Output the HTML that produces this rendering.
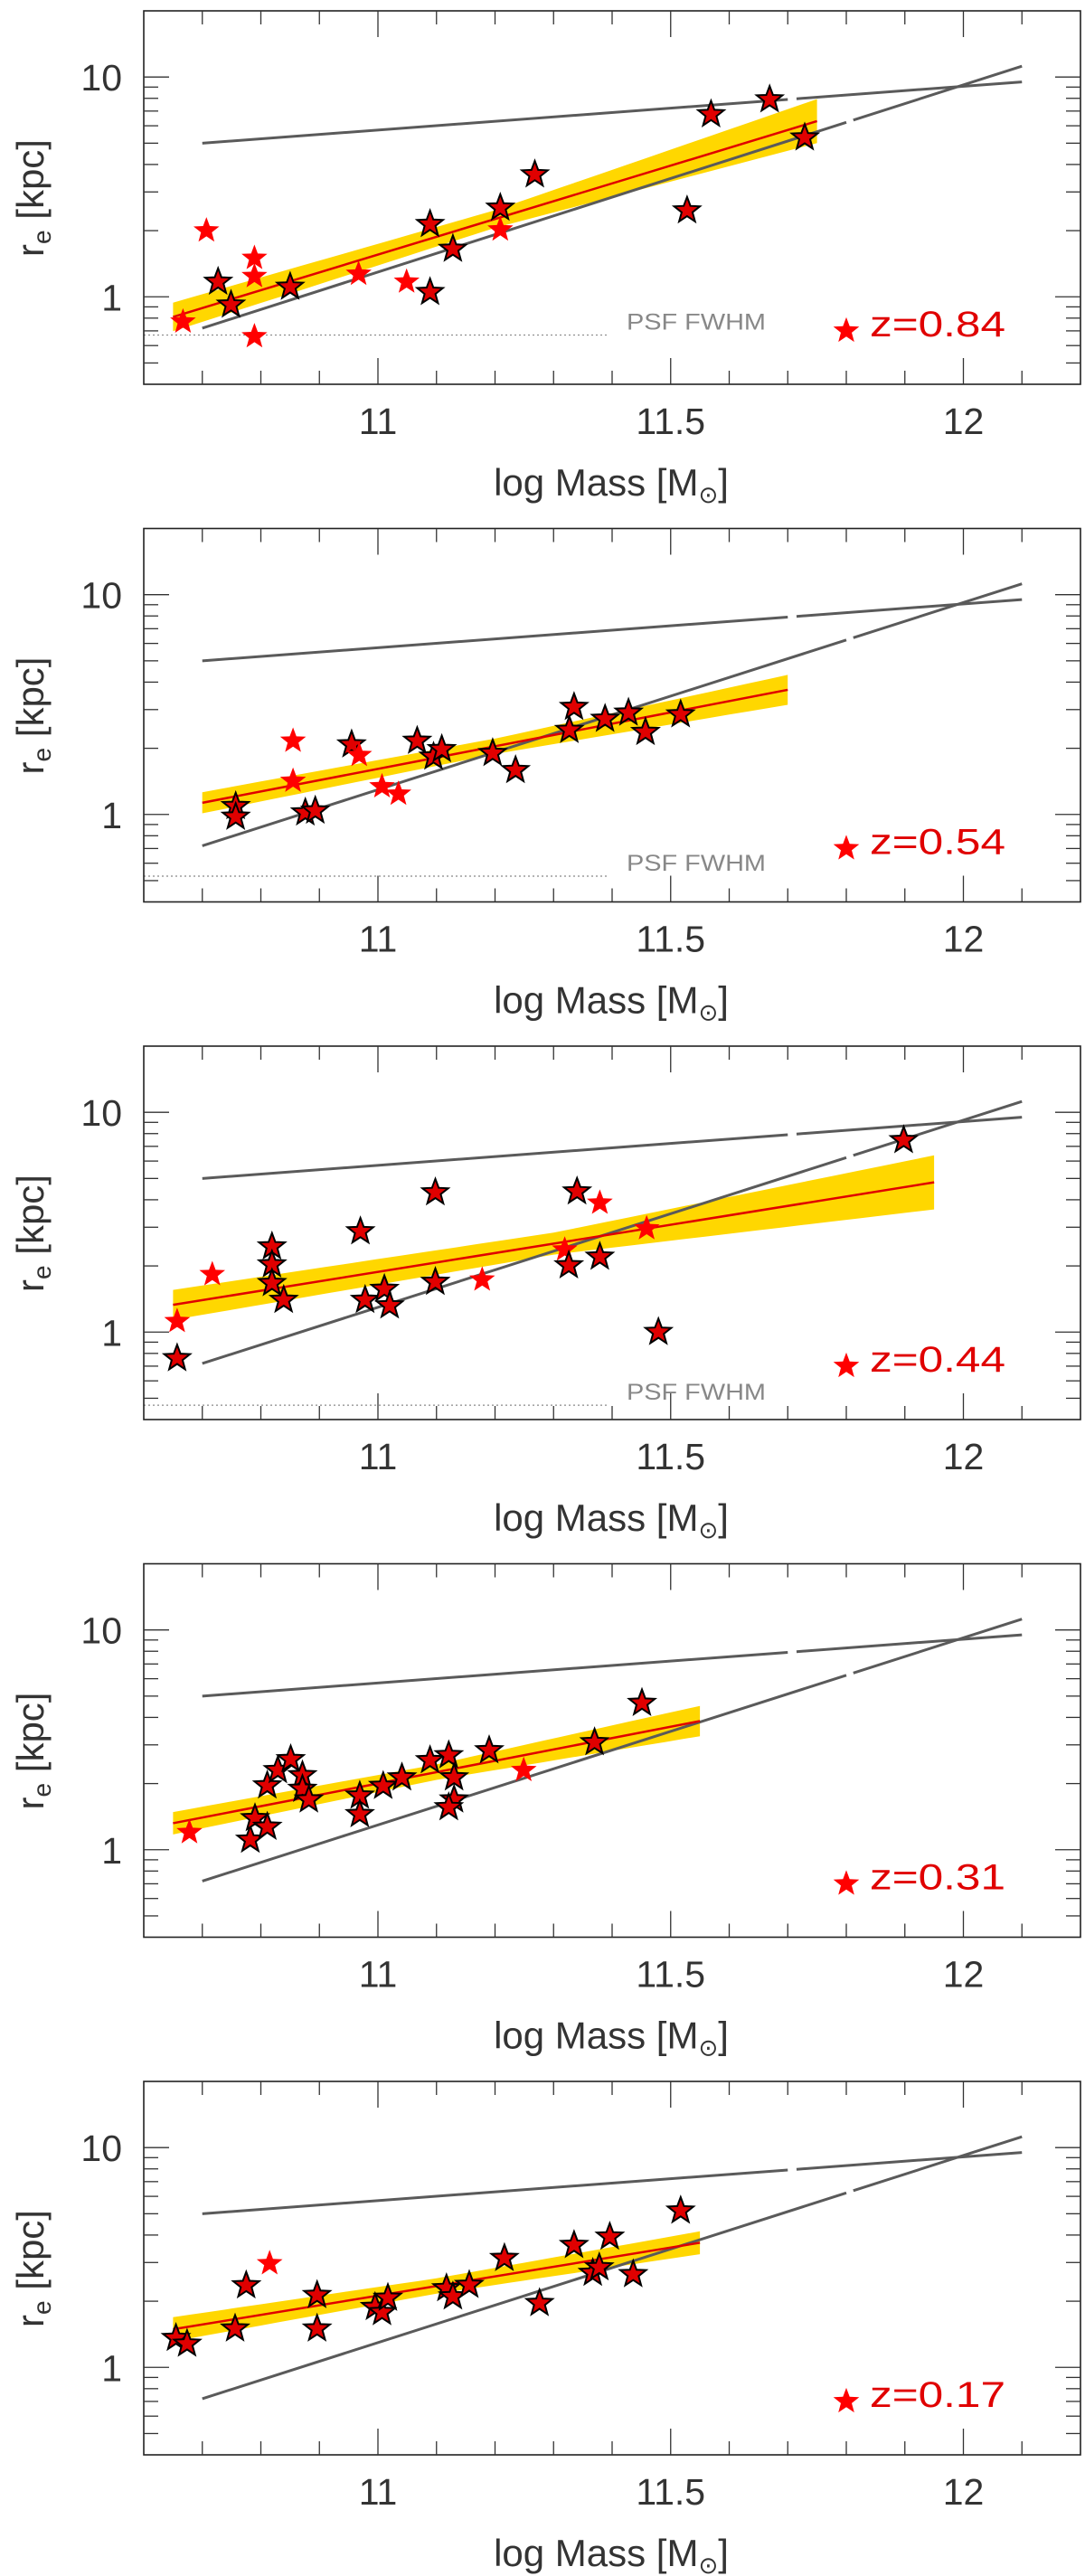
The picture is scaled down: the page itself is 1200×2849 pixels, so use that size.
<!DOCTYPE html>
<html><head><meta charset="utf-8">
<style>
html,body{margin:0;padding:0;background:#fff;}
svg{display:block;}
text{font-family:"Liberation Sans",sans-serif;}
</style></head>
<body>
<svg id="fig" width="1200" height="2849" viewBox="0 0 1200 2849" xmlns="http://www.w3.org/2000/svg"></svg>
<script>
// ---- data (per panel) ----
const zLabels = ["z=0.84","z=0.54","z=0.44","z=0.31","z=0.17"];
const psfValues = [0.67, 0.524, 0.465, null, null];

const p1Mass = [10.667,10.707,10.727,10.749,10.789,10.789,10.789,10.85,10.967,11.049,11.089,11.089,11.128,11.209,11.209,11.268,11.528,11.569,11.669,11.729];
const p1Re   = [0.77,2.0,1.17,0.92,1.5,1.24,0.66,1.11,1.27,1.17,2.14,1.05,1.65,2.54,2.02,3.6,2.47,6.76,7.9,5.3];
const p1Out  = [0,0,1,1,0,0,0,1,0,0,1,1,1,1,0,1,1,1,1,1];

const p2Mass = [10.757,10.757,10.855,10.855,10.876,10.893,10.955,10.968,11.007,11.035,11.067,11.095,11.109,11.196,11.235,11.327,11.335,11.388,11.428,11.457,11.517];
const p2Re   = [1.09,0.975,2.16,1.42,1.02,1.04,2.08,1.86,1.34,1.24,2.16,1.83,1.98,1.9,1.59,2.42,3.08,2.72,2.9,2.37,2.85];
const p2Out  = [1,1,0,0,1,1,1,0,0,0,1,1,1,1,1,1,1,1,1,1,1];

const p3Mass = [10.657,10.657,10.717,10.819,10.819,10.819,10.839,10.97,10.978,11.011,11.02,11.098,11.098,11.178,11.319,11.326,11.34,11.379,11.379,11.459,11.479,11.898];
const p3Re   = [1.12,0.76,1.83,2.45,2.03,1.67,1.4,2.87,1.4,1.57,1.32,4.32,1.69,1.73,2.37,2.01,4.36,2.2,3.87,2.96,1.0,7.46];
const p3Out  = [0,1,0,1,1,1,1,1,1,1,1,1,1,0,0,1,1,1,0,0,1,1];

const p4Mass = [10.678,10.782,10.79,10.811,10.811,10.829,10.851,10.871,10.871,10.882,10.969,10.969,11.009,11.041,11.089,11.121,11.13,11.13,11.121,11.19,11.249,11.37,11.451];
const p4Re   = [1.2,1.11,1.39,1.27,1.96,2.3,2.58,2.18,1.89,1.69,1.76,1.45,1.95,2.13,2.55,2.69,2.13,1.69,1.56,2.83,2.3,3.08,4.65];
const p4Out  = [0,1,1,1,1,1,1,1,1,1,1,1,1,1,1,1,1,1,1,1,0,1,1];

const p5Mass = [10.655,10.674,10.756,10.775,10.815,10.896,10.896,10.995,11.007,11.017,11.117,11.128,11.156,11.216,11.276,11.335,11.367,11.378,11.396,11.436,11.517];
const p5Re   = [1.36,1.28,1.5,2.36,2.97,2.13,1.5,1.88,1.78,2.07,2.29,2.1,2.37,3.14,1.96,3.6,2.69,2.85,3.93,2.65,5.16];
const p5Out  = [1,1,1,1,0,1,1,1,1,1,1,1,1,1,1,1,1,1,1,1,1];

const fitMass = [[10.65,11.75],[10.7,11.7],[10.65,11.95],[10.65,11.55],[10.65,11.55]];
const fitRe   = [[0.81,6.3],[1.13,3.69],[1.33,4.8],[1.32,3.85],[1.49,3.69]];
const bandHalfDex = [[0.065,0.04,0.1],[0.048,0.035,0.068],[0.068,0.05,0.123],[0.051,0.035,0.069],[0.055,0.035,0.052]];

// reference relations (same every panel)
const upperMass = [10.7,12.1];
const upperRe = [5.0,9.5];
const lowerMass = [10.7,12.1];
const lowerRe = [0.72,11.2];

const xTickMajor = [11,11.5,12];
const xTickLabels = ["11","11.5","12"];
const yTickMajor = [1,10];
const yTickLabels = ["1","10"];

const panelsMass=[p1Mass,p2Mass,p3Mass,p4Mass,p5Mass];
const panelsRe=[p1Re,p2Re,p3Re,p4Re,p5Re];
const panelsOut=[p1Out,p2Out,p3Out,p4Out,p5Out];

// ---- layout ----
const NS="http://www.w3.org/2000/svg";
const svg=document.getElementById('fig');
const L=159,W=1036,H=413;
const XMIN=10.6,XMAX=12.2,YMIN=Math.log10(0.4),YMAX=Math.log10(20);
function mk(tag,attrs,parent){const e=document.createElementNS(NS,tag);for(const k in attrs)e.setAttribute(k,attrs[k]);(parent||svg).appendChild(e);return e;}
function starPts(cx,cy,R){const r=R*0.42;let p=[];for(let i=0;i<10;i++){const a=-Math.PI/2+i*Math.PI/5;const rr=i%2?r:R;p.push((cx+rr*Math.cos(a)).toFixed(1)+","+(cy+rr*Math.sin(a)).toFixed(1));}return p.join(" ");}

for(let pi=0;pi<5;pi++){
  const T=12+pi*572.5;
  const sx=m=>L+(m-XMIN)/(XMAX-XMIN)*W;
  const sy=r=>T+(YMAX-Math.log10(r))/(YMAX-YMIN)*H;
  const g=mk('g',{});
  
  
  const clipId='clip'+pi;
  const cp=mk('clipPath',{id:clipId},g);mk('rect',{x:L,y:T,width:W,height:H},cp);
  const plot=mk('g',{'clip-path':'url(#'+clipId+')'},g);

  // band
  const fm=fitMass[pi],fr=fitRe[pi],bh=bandHalfDex[pi];
  const l0=Math.log10(fr[0]),l1=Math.log10(fr[1]);
  const mid=(fm[0]+fm[1])/2;
  let top=[],bot=[];
  for(let k=0;k<=30;k++){
    const m=fm[0]+(fm[1]-fm[0])*k/30;
    const lc=l0+(l1-l0)*k/30;
    const h=m<mid? bh[0]+(bh[1]-bh[0])*(m-fm[0])/(mid-fm[0]) : bh[1]+(bh[2]-bh[1])*(m-mid)/(fm[1]-mid);
    top.push(sx(m).toFixed(1)+","+sy(Math.pow(10,lc+h)).toFixed(1));
    bot.unshift(sx(m).toFixed(1)+","+sy(Math.pow(10,lc-h)).toFixed(1));
  }
  const band=mk('polygon',{points:top.concat(bot).join(" "),fill:'#ffd700'},plot);
  
  

  // reference lines with small gaps
  function refLine(ms,rs,gapA,gapB,name){
    const la=Math.log10(rs[0]),lb=Math.log10(rs[1]);
    const at=m=>Math.pow(10,la+(lb-la)*(m-ms[0])/(ms[1]-ms[0]));
    const segs=[[ms[0],gapA],[gapB,ms[1]]];
    segs.forEach(s=>{
      const ln=mk('line',{x1:sx(s[0]),y1:sy(at(s[0])),x2:sx(s[1]),y2:sy(at(s[1])),stroke:'#5a5a5a','stroke-width':3},plot);
      
      
    });
  }
  refLine(upperMass,upperRe,11.7,11.715,'local-relation-upper');
  refLine(lowerMass,lowerRe,11.8,11.812,'local-relation-lower');

  // fit line
  const fl=mk('line',{x1:sx(fm[0]),y1:sy(fr[0]),x2:sx(fm[1]),y2:sy(fr[1]),stroke:'#e00000','stroke-width':2.5},plot);
  
  

  // psf
  if(psfValues[pi]!==null){
    const pl=mk('line',{x1:L,y1:sy(psfValues[pi]),x2:sx(11.395),y2:sy(psfValues[pi]),stroke:'#888','stroke-width':1.2,'stroke-dasharray':'2,3'},plot);
    
    
    const pt=mk('text',{x:693,y:sy(psfValues[pi])-6,'font-size':25,fill:'#888',textLength:154,lengthAdjust:'spacingAndGlyphs'},g);
    pt.textContent='PSF FWHM';
    
    
  }

  // stars
  const M=panelsMass[pi],R=panelsRe[pi],O=panelsOut[pi];
  for(let k=0;k<M.length;k++){
    const s=mk('polygon',{points:starPts(sx(M[k]),sy(R[k]),15),fill:O[k]?'#e00000':'#ff0000',stroke:O[k]?'#000':'none','stroke-width':O[k]?2:0,'stroke-linejoin':'miter'},plot);
    
    
  }

  // frame
  const fr2=mk('rect',{x:L,y:T,width:W,height:H,fill:'none',stroke:'#222','stroke-width':1.6},g);
  
  

  // x ticks
  for(let t=107;t<=121;t++){
    const m=t/10;const major=xTickMajor.some(v=>Math.abs(v-m)<1e-6);
    const len=major?29:15;const x=sx(m);
    const a=mk('line',{x1:x,y1:T+H,x2:x,y2:T+H-len,stroke:'#333','stroke-width':1.3},g);
    
    
    const b=mk('line',{x1:x,y1:T,x2:x,y2:T+len,stroke:'#333','stroke-width':1.3},g);
    
    
  }
  xTickMajor.forEach((v,i)=>{
    const tx=mk('text',{x:sx(v),y:T+H+55,'font-size':41,fill:'#333','text-anchor':'middle'},g);
    tx.textContent=xTickLabels[i];
    
    
  });
  // y ticks
  [0.5,0.6,0.7,0.8,0.9,1,2,3,4,5,6,7,8,9,10].forEach(v=>{
    const major=yTickMajor.includes(v);const len=major?28:16;const y=sy(v);
    const a=mk('line',{x1:L,y1:y,x2:L+len,y2:y,stroke:'#333','stroke-width':1.3},g);
    
    
    const b=mk('line',{x1:L+W,y1:y,x2:L+W-len,y2:y,stroke:'#333','stroke-width':1.3},g);
    
    
  });
  yTickMajor.forEach((v,i)=>{
    const tx=mk('text',{x:135,y:sy(v)+15,'font-size':41,fill:'#333','text-anchor':'end'},g);
    tx.textContent=yTickLabels[i];
    
    
  });

  // axis titles
  const xt=mk('text',{x:676,y:T+H+123,'font-size':42,fill:'#333','text-anchor':'middle'},g);
  
  
  xt.innerHTML='log Mass [M<tspan font-size="26" dy="8">\u2299</tspan><tspan dy="-8">]</tspan>';
  const yt=mk('text',{x:0,y:0,'font-size':42,fill:'#333','text-anchor':'middle',transform:'translate(48,'+(T+207)+') rotate(-90)'},g);
  
  
  yt.innerHTML='r<tspan font-size="28" dy="8">e</tspan><tspan dy="-8"> [kpc]</tspan>';

  // redshift label
  const zs=mk('polygon',{points:starPts(sx(11.8),sy(0.7),15),fill:'#ff0000'},g);
  
  
  const zt=mk('text',{x:962,y:sy(0.7)+6,'font-size':40,fill:'#e00000',textLength:150,lengthAdjust:'spacingAndGlyphs'},g);
  zt.textContent=zLabels[pi];
  
  
}
</script>
</body></html>
